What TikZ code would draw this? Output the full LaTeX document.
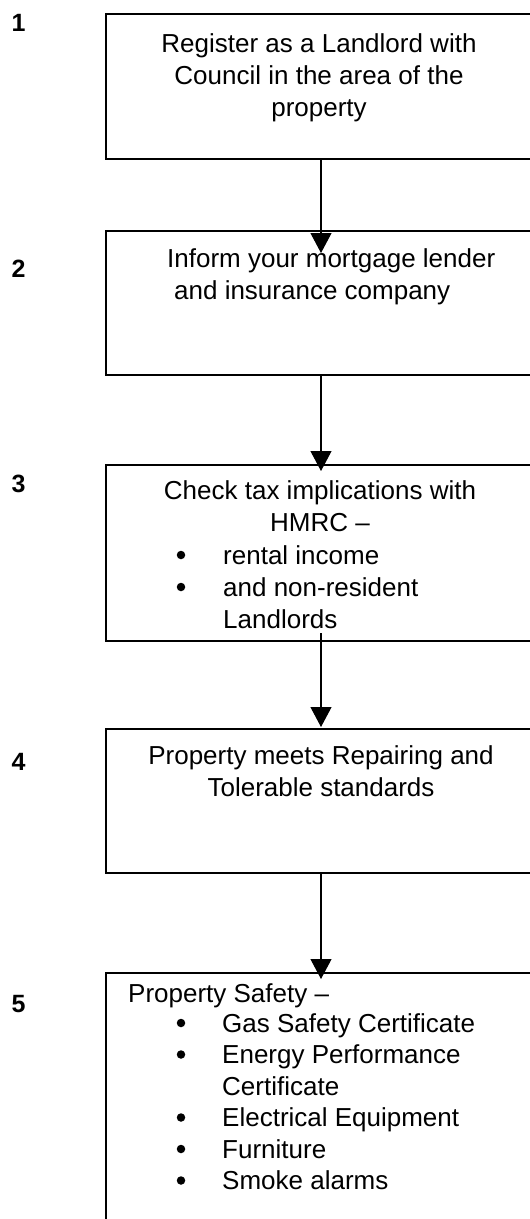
\documentclass[tikz,border=0pt]{standalone}
\usepackage{fontspec}
\setmainfont{Liberation Sans}
\usetikzlibrary{arrows.meta}
\tikzset{>={Triangle[length=20pt, width=21pt]}}
\tikzset{flowbox/.style = {draw, line width=1.1pt, anchor=north west, minimum width=430pt, inner sep=0pt, outer sep=0pt},
	txt/.style = {inner sep=0pt, font=\fontsize{26}{32}\selectfont},
	num/.style = {inner sep=0pt, anchor=base, font=\fontsize{25}{28}\selectfont\bfseries},
	bul/.style = {circle, fill, inner sep=0pt, minimum size=8.5pt},
	flow/.style = {->, line width=1.1pt}}

\begin{document}
\begin{tikzpicture}[x=1pt, y=-1pt]
	\useasboundingbox (0,0) rectangle (530,1219);
	\clip (0,0) rectangle (530,1219);
	\node[flowbox, minimum height=145pt] (b1) at (106,14) {};
	\node[flowbox, minimum height=144pt] (b2) at (106,231) {};
	\node[flowbox, minimum height=176pt] (b3) at (106,465) {};
	\node[flowbox, minimum height=144pt] (b4) at (106,729) {};
	\node[flowbox, minimum height=260pt] (b5) at (106,973) {};
	\foreach \n/\y in {1/31, 2/277, 3/492, 4/770, 5/1012}
	\node[num, name=n\n] at (18.5,\y) {\n};
	\node[txt, anchor=north, align=center] (t1) at (319,33.4) {Register as a Landlord with\\Council in the area of the\\property};
	\node[txt, anchor=north west, align=left] (t2) at (167,248.4) {Inform your mortgage lender\\\hspace*{7pt}and insurance company};
	\node[txt, anchor=north, align=center] (t3) at (320,480.4) {Check tax implications with\\HMRC –};
	\node[txt, anchor=north west, align=left] (t3i) at (223,545.4) {rental income\\and non-resident\\Landlords};
	\foreach \y in {564,596}
	\node[bul, name=p\y] at (181,\y-9) {};
	\node[txt, anchor=north, align=center] (t4) at (321,745.4) {Property meets Repairing and\\Tolerable standards};
	\node[txt, anchor=north west] (t5) at (128,983.4) {Property Safety –};
	\node[txt, anchor=north west, align=left, font=\fontsize{26}{31.5}\selectfont] (t5i) at (222,1013.4) {Gas Safety Certificate\\Energy Performance\\Certificate\\Electrical Equipment\\Furniture\\Smoke alarms};
	\foreach \y in {1032,1063.5,1126.5,1158,1189.5}
	\node[bul, name=q\y] at (181,\y-9) {};
	\draw[flow] (b1.south) -- ([yshift=-22pt]b2.north);
	\draw[flow] (b2.south) -- ([yshift=-6pt]b3.north);
	\draw[flow] ([yshift=8pt]b3.south) -- ([yshift=2pt]b4.north);
	\draw[flow] (b4.south) -- ([yshift=-6pt]b5.north);
\end{tikzpicture}
\end{document}
